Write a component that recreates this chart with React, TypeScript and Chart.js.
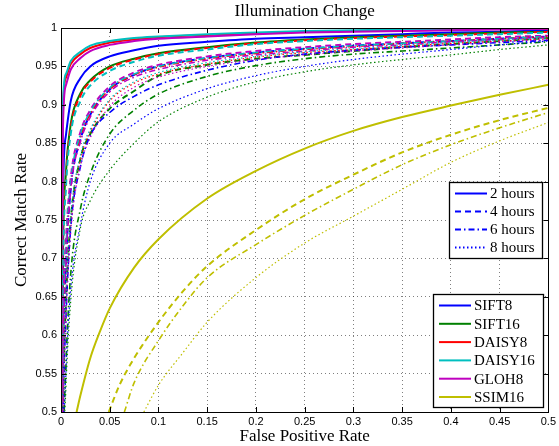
import React, { useEffect, useRef } from "react";
import { Chart, registerables } from "chart.js";
Chart.register(...registerables);

// shared false-positive-rate grid for the SIFT / DAISY / GLOH curves
const FPR = [0, 0.002, 0.005, 0.01, 0.02, 0.03, 0.05, 0.075, 0.1, 0.15, 0.2, 0.25, 0.3, 0.35, 0.4, 0.45, 0.5];

const SIFT8_2H = [0.3, 0.78, 0.86, 0.905, 0.935, 0.95, 0.963, 0.971, 0.977, 0.982, 0.986, 0.988, 0.99, 0.992, 0.994, 0.995, 0.997];
const SIFT8_4H = [0.25, 0.55, 0.69, 0.79, 0.855, 0.887, 0.92, 0.939, 0.95, 0.961, 0.968, 0.973, 0.977, 0.98, 0.983, 0.986, 0.989];
const SIFT8_6H = [0.2, 0.48, 0.62, 0.74, 0.82, 0.86, 0.89, 0.911, 0.926, 0.945, 0.958, 0.966, 0.971, 0.975, 0.978, 0.981, 0.984];
const SIFT8_8H = [0.15, 0.42, 0.55, 0.66, 0.745, 0.8, 0.85, 0.875, 0.895, 0.921, 0.938, 0.95, 0.959, 0.966, 0.972, 0.978, 0.983];

const SIFT16_2H = [0.3, 0.7, 0.81, 0.875, 0.915, 0.932, 0.95, 0.96, 0.967, 0.975, 0.981, 0.985, 0.988, 0.99, 0.992, 0.994, 0.995];
const SIFT16_4H = [0.2, 0.5, 0.64, 0.75, 0.83, 0.862, 0.895, 0.918, 0.938, 0.952, 0.96, 0.965, 0.97, 0.975, 0.979, 0.983, 0.987];
const SIFT16_6H = [0.15, 0.42, 0.56, 0.68, 0.765, 0.81, 0.862, 0.893, 0.914, 0.937, 0.951, 0.96, 0.966, 0.97, 0.974, 0.978, 0.982];
const SIFT16_8H = [0.1, 0.4, 0.53, 0.645, 0.74, 0.775, 0.815, 0.85, 0.878, 0.91, 0.93, 0.943, 0.952, 0.959, 0.965, 0.972, 0.978];

const DAISY8_2H = [0.35, 0.89, 0.935, 0.953, 0.966, 0.974, 0.981, 0.985, 0.988, 0.991, 0.993, 0.995, 0.996, 0.997, 0.998, 0.999, 0.999];
const DAISY8_4H = [0.3, 0.68, 0.8, 0.87, 0.912, 0.93, 0.948, 0.959, 0.966, 0.974, 0.98, 0.984, 0.987, 0.989, 0.991, 0.993, 0.995];
const DAISY8_6H = [0.25, 0.57, 0.7, 0.795, 0.858, 0.888, 0.92, 0.939, 0.949, 0.96, 0.967, 0.972, 0.976, 0.98, 0.983, 0.986, 0.989];
const DAISY8_8H = [0.2, 0.5, 0.64, 0.75, 0.83, 0.865, 0.905, 0.928, 0.94, 0.953, 0.962, 0.968, 0.972, 0.976, 0.98, 0.983, 0.986];

const DAISY16_2H = [0.35, 0.9, 0.94, 0.957, 0.969, 0.977, 0.983, 0.987, 0.989, 0.992, 0.994, 0.996, 0.997, 0.998, 0.999, 0.999, 1.0];
const DAISY16_4H = [0.3, 0.67, 0.79, 0.862, 0.905, 0.925, 0.944, 0.956, 0.964, 0.972, 0.979, 0.983, 0.986, 0.988, 0.99, 0.992, 0.994];
const DAISY16_6H = [0.25, 0.58, 0.71, 0.8, 0.862, 0.891, 0.922, 0.94, 0.95, 0.961, 0.968, 0.973, 0.977, 0.98, 0.983, 0.986, 0.989];
const DAISY16_8H = [0.2, 0.51, 0.65, 0.755, 0.835, 0.868, 0.907, 0.93, 0.942, 0.955, 0.963, 0.969, 0.973, 0.977, 0.981, 0.984, 0.987];

const GLOH8_2H = [0.35, 0.87, 0.925, 0.946, 0.961, 0.97, 0.978, 0.983, 0.986, 0.989, 0.992, 0.994, 0.995, 0.996, 0.997, 0.998, 0.999];
const GLOH8_4H = [0.25, 0.6, 0.72, 0.805, 0.865, 0.893, 0.924, 0.942, 0.952, 0.963, 0.97, 0.975, 0.979, 0.982, 0.985, 0.988, 0.99];
const GLOH8_6H = [0.25, 0.56, 0.69, 0.79, 0.852, 0.884, 0.917, 0.936, 0.946, 0.958, 0.965, 0.97, 0.975, 0.978, 0.982, 0.985, 0.988];
const GLOH8_8H = [0.2, 0.48, 0.62, 0.735, 0.82, 0.857, 0.898, 0.923, 0.936, 0.95, 0.959, 0.965, 0.97, 0.974, 0.978, 0.982, 0.985];

// SSIM16 curves have their own FPR samples
const SSIM16_2H_X = [0.016, 0.02, 0.03, 0.04, 0.05, 0.075, 0.1, 0.15, 0.2, 0.25, 0.3, 0.35, 0.4, 0.45, 0.5];
const SSIM16_2H = [0.5, 0.522, 0.57, 0.605, 0.635, 0.688, 0.725, 0.778, 0.814, 0.843, 0.866, 0.884, 0.899, 0.913, 0.926];
const SSIM16_4H_X = [0.049, 0.06, 0.075, 0.1, 0.125, 0.15, 0.2, 0.25, 0.3, 0.35, 0.4, 0.45, 0.5];
const SSIM16_4H = [0.5, 0.535, 0.57, 0.617, 0.657, 0.69, 0.737, 0.777, 0.809, 0.838, 0.861, 0.88, 0.896];
const SSIM16_6H_X = [0.065, 0.075, 0.1, 0.125, 0.15, 0.2, 0.25, 0.3, 0.35, 0.4, 0.45, 0.5];
const SSIM16_6H = [0.5, 0.538, 0.593, 0.638, 0.675, 0.718, 0.756, 0.79, 0.822, 0.848, 0.87, 0.89];
const SSIM16_8H_X = [0.085, 0.1, 0.125, 0.15, 0.2, 0.25, 0.3, 0.35, 0.4, 0.45, 0.5];
const SSIM16_8H = [0.5, 0.535, 0.577, 0.617, 0.675, 0.72, 0.755, 0.79, 0.825, 0.853, 0.877];

const X_TICKS = [0, 0.05, 0.1, 0.15, 0.2, 0.25, 0.3, 0.35, 0.4, 0.45, 0.5];
const Y_TICKS = [0.5, 0.55, 0.6, 0.65, 0.7, 0.75, 0.8, 0.85, 0.9, 0.95, 1];

const DESCRIPTORS = ["SIFT8", "SIFT16", "DAISY8", "DAISY16", "GLOH8", "SSIM16"];
const HOURS = ["2 hours", "4 hours", "6 hours", "8 hours"];
const COLORS: Record<string, string> = {
  SIFT8: "#0000ff",
  SIFT16: "#008000",
  DAISY8: "#ff0000",
  DAISY16: "#00bfbf",
  GLOH8: "#bf00bf",
  SSIM16: "#bfbf00",
};
const DASHES = [[], [6, 4], [6, 3, 1.5, 3], [1.5, 2.5]];
const WIDTHS = [2, 2, 1.6, 1.2];

const SERIES: Record<string, [number[], number[]][]> = {
  SIFT8: [[FPR, SIFT8_2H], [FPR, SIFT8_4H], [FPR, SIFT8_6H], [FPR, SIFT8_8H]],
  SIFT16: [[FPR, SIFT16_2H], [FPR, SIFT16_4H], [FPR, SIFT16_6H], [FPR, SIFT16_8H]],
  DAISY8: [[FPR, DAISY8_2H], [FPR, DAISY8_4H], [FPR, DAISY8_6H], [FPR, DAISY8_8H]],
  DAISY16: [[FPR, DAISY16_2H], [FPR, DAISY16_4H], [FPR, DAISY16_6H], [FPR, DAISY16_8H]],
  GLOH8: [[FPR, GLOH8_2H], [FPR, GLOH8_4H], [FPR, GLOH8_6H], [FPR, GLOH8_8H]],
  SSIM16: [[SSIM16_2H_X, SSIM16_2H], [SSIM16_4H_X, SSIM16_4H], [SSIM16_6H_X, SSIM16_6H], [SSIM16_8H_X, SSIM16_8H]],
};

const fmt = (v: number) => String(Number(v.toFixed(2)));

const SERIF = "'Liberation Serif', 'Times New Roman', serif";

const decorPlugin = {
  id: "decor",
  afterDraw(chart: any) {
    const { ctx, chartArea: a, scales } = chart;
    const xs = scales.x;
    const ys = scales.y;
    ctx.save();
    // inward ticks
    ctx.strokeStyle = "#000";
    ctx.lineWidth = 1;
    ctx.setLineDash([]);
    ctx.beginPath();
    X_TICKS.forEach((v) => {
      const px = Math.round(xs.getPixelForValue(v)) + 0.5;
      ctx.moveTo(px, a.bottom);
      ctx.lineTo(px, a.bottom - 5);
      ctx.moveTo(px, a.top);
      ctx.lineTo(px, a.top + 5);
    });
    Y_TICKS.forEach((v) => {
      const py = Math.round(ys.getPixelForValue(v)) + 0.5;
      ctx.moveTo(a.left, py);
      ctx.lineTo(a.left + 5, py);
      ctx.moveTo(a.right, py);
      ctx.lineTo(a.right - 5, py);
    });
    ctx.stroke();
    // box
    ctx.strokeRect(Math.round(a.left) + 0.5, Math.round(a.top) + 0.5, Math.round(a.right - a.left), Math.round(a.bottom - a.top));

    // title & axis titles
    ctx.fillStyle = "#000";
    ctx.textAlign = "center";
    ctx.textBaseline = "middle";
    ctx.font = `17px ${SERIF}`;
    ctx.fillText("Illumination Change", (a.left + a.right) / 2, 12);
    ctx.fillText("False Positive Rate", (a.left + a.right) / 2, 437);
    ctx.save();
    ctx.translate(22, (a.top + a.bottom) / 2);
    ctx.rotate(-Math.PI / 2);
    ctx.fillText("Correct Match Rate", 0, 0);
    ctx.restore();

    // legend 1 : line styles
    const drawBox = (x: number, y: number, w: number, h: number) => {
      ctx.setLineDash([]);
      ctx.fillStyle = "#fff";
      ctx.fillRect(x, y, w, h);
      ctx.strokeStyle = "#000";
      ctx.lineWidth = 1.3;
      ctx.strokeRect(x + 0.5, y + 0.5, w, h);
    };
    ctx.font = `15px ${SERIF}`;
    ctx.textAlign = "left";
    drawBox(449, 182, 93, 76);
    HOURS.forEach((lab, i) => {
      const yy = 193.5 + i * 18;
      ctx.strokeStyle = "#0000ff";
      ctx.lineWidth = 2;
      ctx.setLineDash(DASHES[i]);
      ctx.beginPath();
      ctx.moveTo(455, yy);
      ctx.lineTo(487, yy);
      ctx.stroke();
      ctx.setLineDash([]);
      ctx.fillStyle = "#000";
      ctx.fillText(lab, 490, yy + 1);
    });
    // legend 2 : descriptors
    drawBox(433, 294, 110, 113);
    DESCRIPTORS.forEach((lab, i) => {
      const yy = 305.5 + i * 18.3;
      ctx.strokeStyle = COLORS[lab];
      ctx.lineWidth = 2;
      ctx.setLineDash([]);
      ctx.beginPath();
      ctx.moveTo(439, yy);
      ctx.lineTo(471, yy);
      ctx.stroke();
      ctx.fillStyle = "#000";
      ctx.fillText(lab, 474, yy + 1);
    });
    ctx.restore();
  },
};

export default function App() {
  const ref = useRef<HTMLCanvasElement>(null);
  useEffect(() => {
    if (!ref.current) return;
    const datasets: any[] = [];
    [0, 1, 2, 3].forEach((h) => {
      DESCRIPTORS.forEach((d) => {
        const [xArr, yArr] = SERIES[d][h];
        datasets.push({
          label: `${d} ${HOURS[h]}`,
          data: xArr.map((x, i) => ({ x, y: yArr[i] })),
          borderColor: COLORS[d],
          borderWidth: WIDTHS[h],
          borderDash: DASHES[h],
          pointRadius: 0,
          fill: false,
          cubicInterpolationMode: "monotone",
        });
      });
    });
    datasets.reverse();
    const chart = new Chart(ref.current, {
      type: "line",
      data: { datasets },
      options: {
        animation: false,
        responsive: false,
        events: [],
        layout: { padding: { top: 28, right: 7, left: 0, bottom: 0 } },
        plugins: { legend: { display: false }, tooltip: { enabled: false }, title: { display: false } },
        scales: {
          x: {
            type: "linear",
            min: 0,
            max: 0.5,
            afterBuildTicks: (s: any) => {
              s.ticks = X_TICKS.map((v) => ({ value: v }));
            },
            afterFit: (s: any) => {
              s.height = 34;
            },
            ticks: {
              callback: (v: any) => fmt(Number(v)),
              font: { family: "'Liberation Sans', Arial, sans-serif", size: 11 },
              color: "#000",
              padding: 3,
              maxRotation: 0,
              autoSkip: false,
            },
            grid: { color: "rgba(0,0,0,0.5)", lineWidth: 1, drawTicks: false },
            border: { display: false, dash: [1, 3] },
          },
          y: {
            type: "linear",
            min: 0.5,
            max: 1,
            afterBuildTicks: (s: any) => {
              s.ticks = Y_TICKS.map((v) => ({ value: v }));
            },
            afterFit: (s: any) => {
              s.width = 61;
            },
            ticks: {
              callback: (v: any) => fmt(Number(v)),
              font: { family: "'Liberation Sans', Arial, sans-serif", size: 11 },
              color: "#000",
              padding: 4,
              autoSkip: false,
            },
            grid: { color: "rgba(0,0,0,0.5)", lineWidth: 1, drawTicks: false },
            border: { display: false, dash: [1, 3] },
          },
        },
      },
      plugins: [decorPlugin],
    });
    return () => chart.destroy();
  }, []);
  return (
    <div style={{ position: "fixed", left: 0, top: 0, width: 559, height: 446, background: "#fff" }}>
      <canvas ref={ref} width={559} height={446} style={{ display: "block", width: 559, height: 446 }} />
    </div>
  );
}
